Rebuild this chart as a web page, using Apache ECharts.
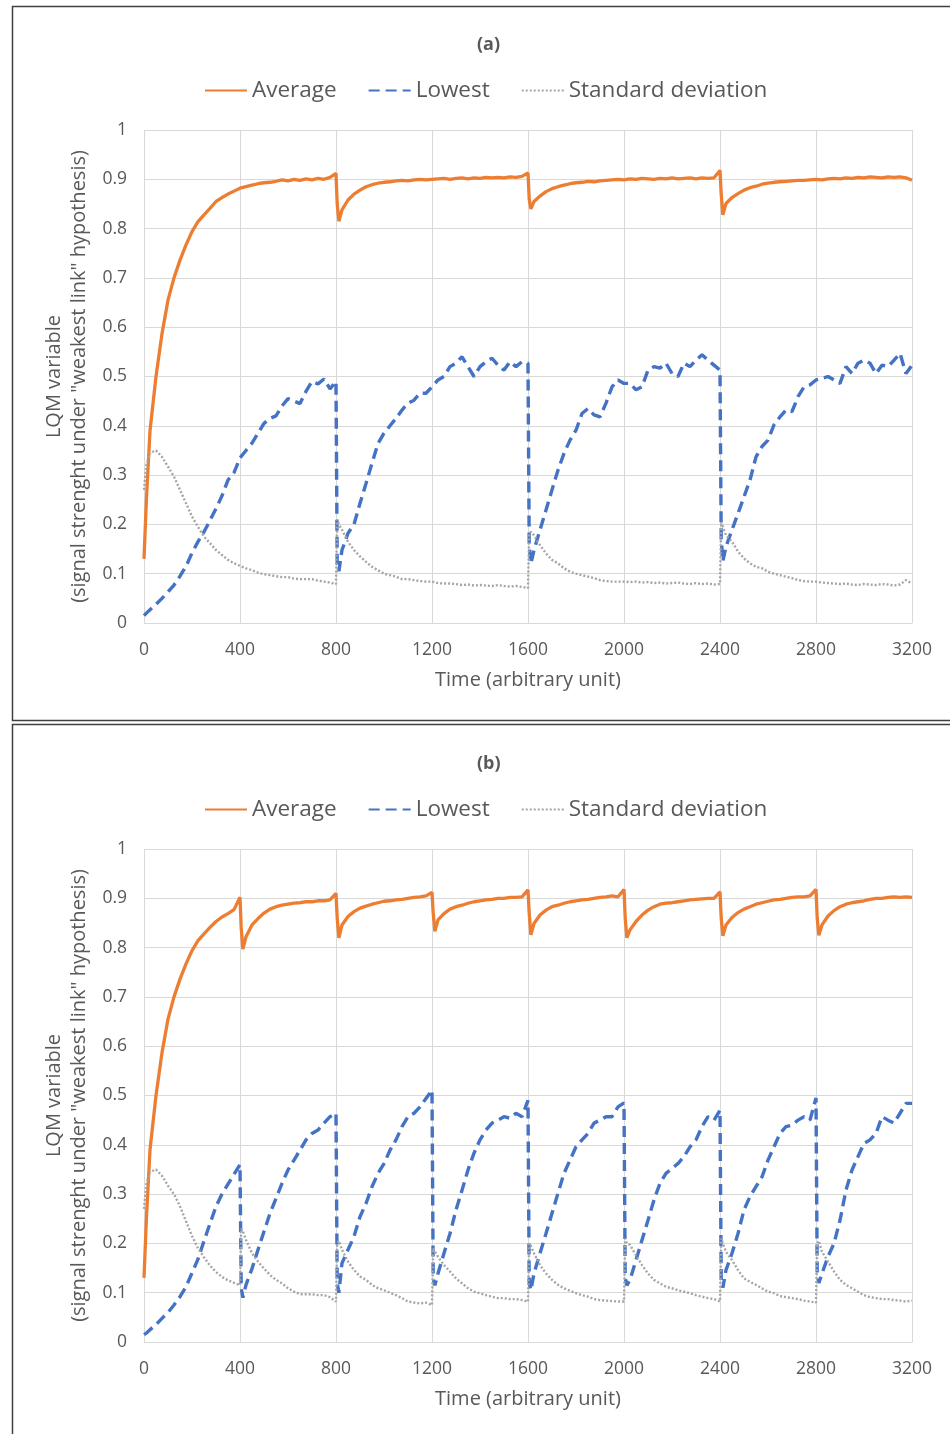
<!DOCTYPE html>
<html>
<head>
<meta charset="utf-8">
<script src="https://cdn.jsdelivr.net/npm/echarts@6/dist/echarts.min.js"></script>
<style>
html,body{margin:0;padding:0;background:#fff;}
#chart{width:950px;height:1434px;}
</style>
</head>
<body>
<div id="chart"></div>
<script>
// ---------- Panel (a): resets at 800, 1600, 2400 ----------
const timeA = [0,10,25,50,75,100,125,150,175,200,225,250,275,300,325,350,375,400,425,450,475,500,525,550,575,600,625,650,675,700,725,750,775,800,
805,812,825,850,875,900,925,950,975,1000,1025,1050,1075,1100,1125,1150,1175,1200,1225,1250,1275,1300,1325,1350,1375,1400,1425,1450,1475,1500,1525,1550,1575,1600,
1605,1612,1625,1650,1675,1700,1725,1750,1775,1800,1825,1850,1875,1900,1925,1950,1975,2000,2025,2050,2075,2100,2125,2150,2175,2200,2225,2250,2275,2300,2325,2350,2375,2400,
2405,2412,2425,2450,2475,2500,2525,2550,2575,2600,2625,2650,2675,2700,2725,2750,2775,2800,2825,2850,2875,2900,2925,2950,2975,3000,3025,3050,3075,3100,3125,3150,3175,3200];

const averageA = [0.13,0.25,0.39,0.50,0.587,0.655,0.70,0.736,0.767,0.794,0.814,0.828,0.841,0.855,0.863,0.87,0.876,0.882,0.885,0.888,0.891,0.893,0.894,0.896,0.899,0.897,0.900,0.898,0.901,0.899,0.902,0.900,0.904,0.912,
0.85,0.815,0.838,0.858,0.87,0.878,0.885,0.889,0.892,0.894,0.895,0.897,0.898,0.897,0.899,0.900,0.899,0.900,0.901,0.902,0.900,0.902,0.903,0.901,0.903,0.902,0.904,0.903,0.904,0.903,0.905,0.904,0.906,0.913,
0.86,0.84,0.855,0.866,0.875,0.881,0.885,0.888,0.891,0.893,0.894,0.896,0.895,0.897,0.898,0.899,0.900,0.899,0.901,0.900,0.902,0.901,0.900,0.902,0.901,0.903,0.901,0.902,0.903,0.901,0.903,0.902,0.903,0.918,
0.87,0.828,0.851,0.863,0.871,0.878,0.883,0.886,0.89,0.892,0.894,0.895,0.896,0.897,0.898,0.898,0.899,0.900,0.899,0.901,0.902,0.901,0.903,0.902,0.904,0.903,0.905,0.904,0.903,0.905,0.904,0.905,0.903,0.898];

const lowestA = [0.015,0.02,0.027,0.038,0.05,0.063,0.077,0.095,0.115,0.142,0.165,0.185,0.208,0.232,0.258,0.29,0.305,0.335,0.35,0.365,0.385,0.405,0.415,0.42,0.44,0.455,0.45,0.445,0.47,0.49,0.485,0.495,0.475,0.49,
0.12,0.105,0.148,0.182,0.2,0.243,0.283,0.324,0.364,0.385,0.4,0.415,0.432,0.446,0.452,0.466,0.466,0.479,0.493,0.5,0.52,0.527,0.54,0.52,0.5,0.52,0.53,0.537,0.523,0.513,0.53,0.52,0.53,0.527,
0.16,0.12,0.148,0.189,0.229,0.27,0.31,0.344,0.371,0.391,0.425,0.435,0.422,0.418,0.446,0.479,0.493,0.486,0.486,0.473,0.479,0.513,0.52,0.517,0.527,0.506,0.5,0.527,0.52,0.533,0.544,0.533,0.523,0.513,
0.17,0.125,0.155,0.189,0.222,0.256,0.29,0.337,0.358,0.371,0.402,0.418,0.432,0.429,0.459,0.479,0.483,0.493,0.496,0.5,0.493,0.486,0.52,0.506,0.527,0.533,0.527,0.506,0.523,0.52,0.533,0.547,0.506,0.523];

const stdDevA = [0.27,0.32,0.345,0.35,0.337,0.317,0.297,0.27,0.243,0.216,0.195,0.175,0.162,0.148,0.138,0.128,0.121,0.116,0.111,0.107,0.102,0.099,0.097,0.095,0.093,0.093,0.09,0.089,0.089,0.089,0.086,0.084,0.082,0.079,
0.21,0.2,0.189,0.165,0.148,0.135,0.124,0.114,0.107,0.1,0.097,0.094,0.089,0.089,0.087,0.085,0.084,0.084,0.081,0.08,0.08,0.079,0.077,0.078,0.076,0.077,0.076,0.075,0.077,0.075,0.074,0.075,0.073,0.071,
0.18,0.185,0.178,0.158,0.141,0.128,0.121,0.111,0.104,0.1,0.097,0.094,0.091,0.087,0.085,0.084,0.084,0.084,0.083,0.084,0.082,0.083,0.081,0.082,0.08,0.081,0.082,0.08,0.079,0.081,0.079,0.08,0.078,0.079,
0.205,0.195,0.178,0.165,0.145,0.131,0.121,0.114,0.111,0.104,0.1,0.097,0.094,0.091,0.087,0.085,0.084,0.084,0.082,0.081,0.08,0.079,0.08,0.078,0.077,0.079,0.078,0.077,0.079,0.078,0.076,0.078,0.087,0.08];

// ---------- Panel (b): resets every 400 ----------
const timeB = [0,10,25,50,75,100,125,150,175,200,225,250,275,300,325,350,375,400,
405,412,425,450,475,500,525,550,575,600,625,650,675,700,725,750,775,800,
805,812,825,850,875,900,925,950,975,1000,1025,1050,1075,1100,1125,1150,1175,1200,
1205,1212,1225,1250,1275,1300,1325,1350,1375,1400,1425,1450,1475,1500,1525,1550,1575,1600,
1605,1612,1625,1650,1675,1700,1725,1750,1775,1800,1825,1850,1875,1900,1925,1950,1975,2000,
2005,2012,2025,2050,2075,2100,2125,2150,2175,2200,2225,2250,2275,2300,2325,2350,2375,2400,
2405,2412,2425,2450,2475,2500,2525,2550,2575,2600,2625,2650,2675,2700,2725,2750,2775,2800,
2805,2812,2825,2850,2875,2900,2925,2950,2975,3000,3025,3050,3075,3100,3125,3150,3175,3200];

const averageB = [0.13,0.25,0.39,0.50,0.587,0.655,0.70,0.736,0.767,0.794,0.814,0.828,0.841,0.853,0.862,0.869,0.877,0.902,
0.84,0.797,0.822,0.846,0.859,0.87,0.878,0.883,0.886,0.888,0.89,0.891,0.893,0.893,0.895,0.895,0.897,0.91,
0.86,0.82,0.846,0.863,0.873,0.88,0.884,0.888,0.891,0.894,0.895,0.897,0.898,0.9,0.902,0.903,0.905,0.912,
0.87,0.833,0.856,0.869,0.878,0.883,0.886,0.89,0.893,0.895,0.897,0.898,0.9,0.9,0.902,0.902,0.903,0.917,
0.87,0.826,0.849,0.866,0.876,0.883,0.886,0.89,0.893,0.895,0.897,0.898,0.9,0.902,0.903,0.905,0.903,0.918,
0.86,0.82,0.836,0.853,0.866,0.876,0.883,0.888,0.89,0.891,0.893,0.895,0.897,0.898,0.899,0.9,0.9,0.913,
0.86,0.824,0.846,0.861,0.871,0.878,0.883,0.888,0.891,0.894,0.897,0.898,0.9,0.902,0.903,0.903,0.905,0.918,
0.86,0.825,0.846,0.864,0.875,0.883,0.888,0.891,0.893,0.895,0.898,0.9,0.9,0.902,0.903,0.902,0.903,0.902];

const lowestB = [0.015,0.018,0.025,0.035,0.048,0.06,0.075,0.092,0.112,0.14,0.168,0.205,0.24,0.275,0.3,0.32,0.34,0.36,
0.11,0.09,0.116,0.149,0.187,0.224,0.261,0.291,0.322,0.349,0.369,0.389,0.41,0.423,0.43,0.444,0.457,0.464,
0.12,0.1,0.16,0.187,0.214,0.254,0.281,0.315,0.342,0.362,0.389,0.41,0.437,0.457,0.464,0.477,0.494,0.511,
0.13,0.115,0.139,0.18,0.22,0.268,0.308,0.349,0.383,0.41,0.43,0.444,0.45,0.457,0.454,0.464,0.457,0.49,
0.12,0.105,0.139,0.18,0.22,0.261,0.302,0.342,0.369,0.396,0.41,0.423,0.444,0.45,0.457,0.457,0.477,0.485,
0.13,0.115,0.126,0.166,0.207,0.247,0.288,0.322,0.342,0.352,0.362,0.376,0.396,0.41,0.437,0.457,0.45,0.47,
0.13,0.11,0.146,0.18,0.22,0.268,0.295,0.315,0.335,0.369,0.396,0.423,0.437,0.44,0.45,0.457,0.45,0.495,
0.14,0.12,0.139,0.173,0.2,0.247,0.308,0.349,0.376,0.403,0.41,0.423,0.457,0.45,0.444,0.464,0.484,0.484];

const stdDevB = [0.27,0.32,0.345,0.35,0.337,0.317,0.3,0.275,0.245,0.215,0.19,0.172,0.155,0.142,0.132,0.125,0.12,0.115,
0.23,0.225,0.207,0.18,0.163,0.149,0.136,0.126,0.119,0.109,0.102,0.097,0.097,0.097,0.095,0.095,0.091,0.082,
0.2,0.205,0.187,0.163,0.146,0.133,0.126,0.116,0.109,0.105,0.1,0.095,0.089,0.082,0.08,0.078,0.08,0.075,
0.19,0.19,0.173,0.156,0.143,0.129,0.119,0.109,0.102,0.099,0.095,0.092,0.089,0.089,0.087,0.087,0.085,0.082,
0.2,0.195,0.18,0.156,0.139,0.126,0.116,0.109,0.104,0.099,0.095,0.092,0.087,0.085,0.084,0.083,0.082,0.082,
0.21,0.2,0.197,0.176,0.156,0.139,0.126,0.119,0.112,0.109,0.105,0.102,0.099,0.095,0.092,0.089,0.087,0.082,
0.21,0.2,0.183,0.166,0.146,0.129,0.122,0.116,0.109,0.102,0.099,0.093,0.091,0.089,0.087,0.084,0.082,0.08,
0.2,0.205,0.183,0.163,0.143,0.126,0.116,0.109,0.102,0.095,0.091,0.089,0.087,0.087,0.085,0.084,0.082,0.084];

const seriesNames = ['Average', 'Lowest', 'Standard deviation'];
const panelTitles = ['(a)', '(b)'];
const xAxisTitle = 'Time (arbitrary unit)';
const yAxisTitle = 'LQM variable\n(signal strenght under "weakest link" hypothesis)';

const FONT = '"Open Sans", "Noto Sans", sans-serif';
const TXT = '#595959';
const colors = ['#ED7D31', '#4472C4', '#A5A5A5'];
const lineStyles = [
  {width: 3.3, type: 'solid'},
  {width: 3.4, type: [11, 6]},
  {width: 2.4, type: [2, 2]}
];

const pairs = (t, v) => t.map((x, i) => [x, v[i]]);
const panels = [
  {time: timeA, vals: [averageA, lowestA, stdDevA], top: 130},
  {time: timeB, vals: [averageB, lowestB, stdDevB], top: 849}
];

const grids = [], xAxes = [], yAxes = [], series = [], legends = [], titles = [];
panels.forEach((p, k) => {
  grids.push({left: 144, right: 38, top: p.top, height: 493, containLabel: false});
  xAxes.push({
    type: 'value', gridIndex: k, min: 0, max: 3200, interval: 400,
    name: xAxisTitle, nameLocation: 'middle', nameGap: 47,
    nameTextStyle: {fontFamily: FONT, fontSize: 20, color: TXT},
    axisLine: {show: true, lineStyle: {color: '#D9D9D9', width: 1}},
    axisTick: {show: false},
    axisLabel: {fontFamily: FONT, fontSize: 17.5, color: TXT, margin: 18,
      formatter: v => String(Math.round(v))},
    splitLine: {show: true, lineStyle: {color: '#D9D9D9', width: 1}}
  });
  yAxes.push({
    type: 'value', gridIndex: k, min: 0, max: 1, interval: 0.1,
    name: yAxisTitle, nameLocation: 'middle', nameGap: 52, nameRotate: 90,
    nameTextStyle: {fontFamily: FONT, fontSize: 20, color: TXT, lineHeight: 25},
    axisLine: {show: false}, axisTick: {show: false},
    axisLabel: {fontFamily: FONT, fontSize: 17.5, color: TXT, margin: 17,
      formatter: v => (Math.round(v * 10) / 10).toString()},
    splitLine: {show: true, lineStyle: {color: '#D9D9D9', width: 1}}
  });
  seriesNames.forEach((name, i) => {
    series.push({
      name: name, type: 'line', xAxisIndex: k, yAxisIndex: k,
      data: pairs(p.time, p.vals[i]),
      showSymbol: false, symbol: 'none', smooth: false,
      color: colors[i], itemStyle: {color: colors[i]},
      lineStyle: Object.assign({color: colors[i]}, lineStyles[i]),
      animation: false, z: 2
    });
  });
  legends.push({
    show: true, top: p.top - 56, left: 199, itemWidth: 42, itemHeight: 14, itemGap: 31,
    itemStyle: {opacity: 0},
    textStyle: {fontFamily: FONT, fontSize: 22.5, color: TXT},
    data: seriesNames.slice(),
    selectedMode: false
  });
  titles.push({
    text: panelTitles[k], left: 472, top: p.top - 99,
    textStyle: {fontFamily: FONT, fontSize: 18, fontWeight: 'bold', color: TXT}
  });
});

const chart = echarts.init(document.getElementById('chart'), null, {renderer: 'canvas', width: 950, height: 1434});
chart.setOption({
  backgroundColor: '#fff',
  animation: false,
  title: titles,
  legend: legends,
  grid: grids,
  xAxis: xAxes,
  yAxis: yAxes,
  series: series,
  graphic: [
    {type: 'rect', shape: {x: 12.5, y: 6.5, width: 960, height: 714}, style: {fill: 'none', stroke: '#404040', lineWidth: 1.5}, z: -1},
    {type: 'rect', shape: {x: 12.5, y: 724.5, width: 960, height: 730}, style: {fill: 'none', stroke: '#404040', lineWidth: 1.5}, z: -1}
  ]
});
</script>
</body>
</html>
